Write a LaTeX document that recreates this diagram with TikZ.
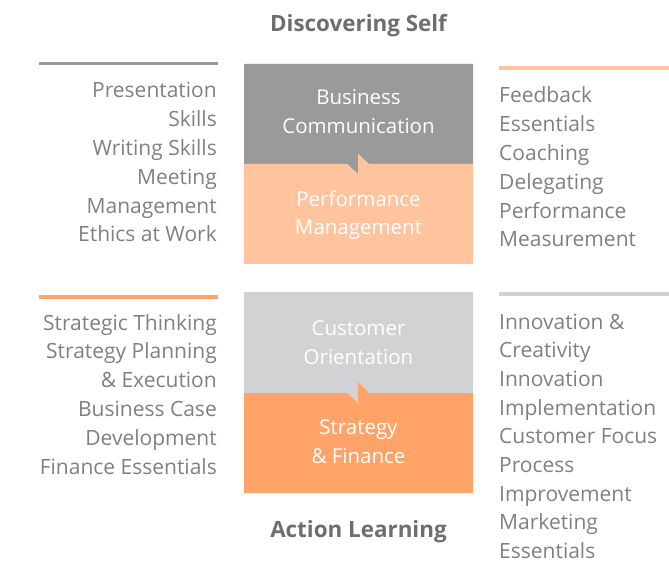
\documentclass[tikz,border=0pt]{standalone}
\usepackage{fontspec}
\setmainfont{Open Sans}
\definecolor{txtgray}{HTML}{808080}
\definecolor{titlegray}{HTML}{6D6E70}
\definecolor{boxdark}{HTML}{9A9A9A}
\definecolor{boxpeach}{HTML}{FFC49E}
\definecolor{boxlight}{HTML}{D1D2D4}
\definecolor{boxorange}{HTML}{FFA368}
\begin{document}
\begin{tikzpicture}[x=1pt,y=-1pt,
  listtext/.style={inner sep=0pt,text=txtgray,font=\fontsize{21}{24}\selectfont},
  boxtext/.style={inner sep=0pt,text=white,font=\fontsize{20.5}{24}\selectfont,anchor=base},
  titletext/.style={inner sep=0pt,text=titlegray,font=\fontsize{22.4}{24}\selectfont\bfseries,anchor=base},
  rule/.style={line width=3.8pt}]
\useasboundingbox (0,0) rectangle (669,561);
% top block
\fill[boxdark] (244,64) -- (473,64) -- (473,164) -- (369,164) -- (358,154) -- (358,174) -- (347,164) -- (244,164) -- cycle;
\fill[boxpeach] (244,264) -- (244,164) -- (347,164) -- (358,174) -- (358,154) -- (369,164) -- (473,164) -- (473,264) -- cycle;
% bottom block
\fill[boxlight] (244,292) -- (473,292) -- (473,393) -- (369,393) -- (358,382) -- (358,403) -- (347,393) -- (244,393) -- cycle;
\fill[boxorange] (244,493) -- (244,393) -- (347,393) -- (358,403) -- (358,382) -- (369,393) -- (473,393) -- (473,493) -- cycle;
% rules
\coordinate (r1a) at (39,63.5); \coordinate (r1b) at (218,63.5);
\coordinate (r2a) at (499,68); \coordinate (r2b) at (669,68);
\coordinate (r3a) at (39,297); \coordinate (r3b) at (218,297);
\coordinate (r4a) at (499,294); \coordinate (r4b) at (669,294);
\draw[rule,boxdark] (r1a) -- (r1b);
\draw[rule,boxpeach] (r2a) -- (r2b);
\draw[rule,boxorange] (r3a) -- (r3b);
\draw[rule,boxlight] (r4a) -- (r4b);
% titles
\node[titletext] (t1) at (358.5,32) {Discovering Self};
\node[titletext] (t2) at (358.5,537) {Action Learning};
% box texts
\node[boxtext] (b1) at (358.5,105) {Business};
\node[boxtext] (b2) at (358.5,134) {Communication};
\node[boxtext] (b3) at (358.5,206.5) {Performance};
\node[boxtext] (b4) at (358.5,235) {Management};
\node[boxtext] (b5) at (358.5,335) {Customer};
\node[boxtext] (b6) at (358.5,364) {Orientation};
\node[boxtext] (b7) at (358.5,434) {Strategy};
\node[boxtext] (b8) at (358.5,463) {\& Finance};
% lists
\foreach \t [count=\i] in {Presentation,Skills,Writing Skills,Meeting,Management,Ethics at Work}
  \node[listtext,anchor=base east] (lt\i) at (217,{98+(\i-1)*28.8}) {\t};
\foreach \t [count=\i] in {Feedback,Essentials,Coaching,Delegating,Performance,Measurement}
  \node[listtext,anchor=base west] (rt\i) at (499,{103+(\i-1)*28.8}) {\t};
\foreach \t [count=\i] in {Strategic Thinking,Strategy Planning,\& Execution,Business Case,Development,Finance Essentials}
  \node[listtext,anchor=base east] (lb\i) at (217,{330+(\i-1)*28.8}) {\t};
\foreach \t [count=\i] in {Innovation \&,Creativity,Innovation,Implementation,Customer Focus,Process,Improvement,Marketing,Essentials}
  \node[listtext,anchor=base west] (rb\i) at (499,{329+(\i-1)*28.7}) {\t};
\end{tikzpicture}
\end{document}
